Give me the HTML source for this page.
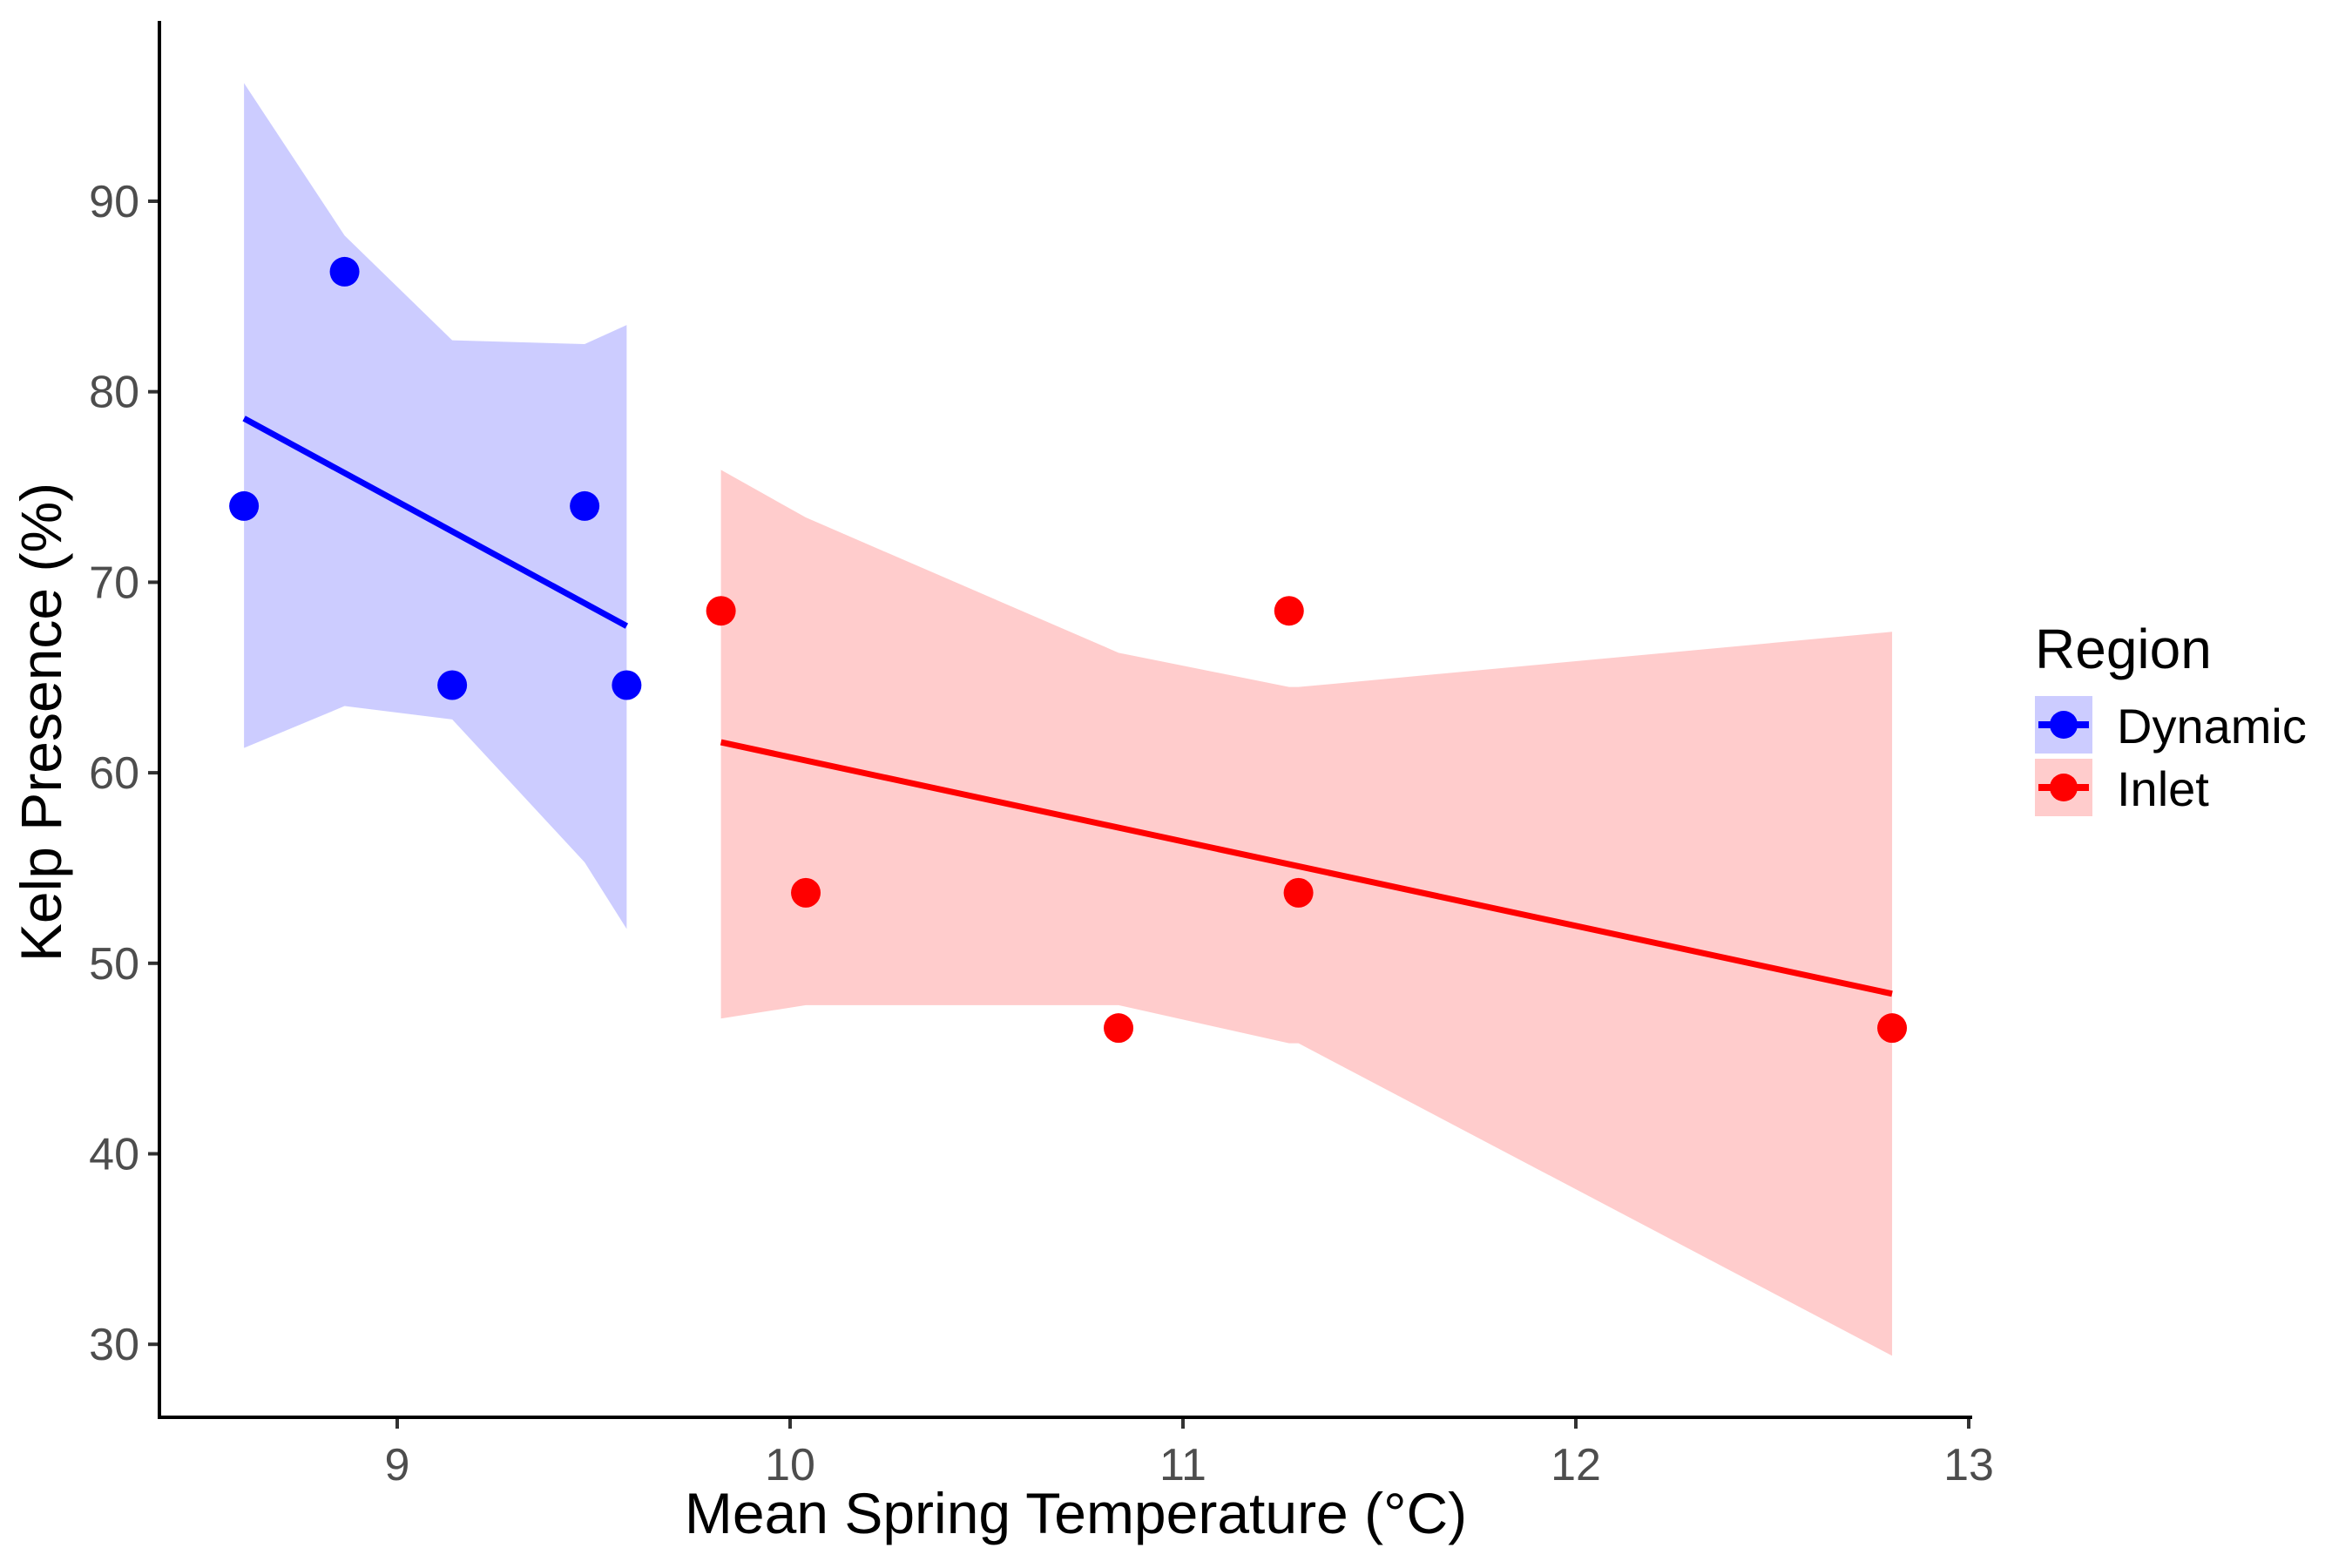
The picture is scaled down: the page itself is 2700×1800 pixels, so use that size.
<!DOCTYPE html>
<html><head><meta charset="utf-8"><style>
html,body{margin:0;padding:0;background:#fff}
svg{display:block;font-family:"Liberation Sans",Arial,sans-serif}
</style></head><body>
<svg id="chart" width="2700" height="1800" viewBox="0 0 2700 1800" xmlns="http://www.w3.org/2000/svg">
<g id="ribbons"></g>
<g id="lines"></g>
<g id="points"></g>
<g id="axes"></g>
<text x="1235" y="1760" font-size="66" text-anchor="middle" fill="#000">Mean Spring Temperature (°C)</text>
<text transform="translate(70,829) rotate(-90)" font-size="66" text-anchor="middle" fill="#000">Kelp Presence (%)</text>
<g>
<text x="2336" y="767" font-size="64" fill="#000">Region</text>
<g>
<rect x="2336" y="799" width="66" height="66" fill="#0000ff" fill-opacity="0.2"/>
<line x1="2340" y1="832" x2="2398" y2="832" stroke="#0000ff" stroke-width="8"/>
<circle cx="2369" cy="832" r="16" fill="#0000ff"/>
<text x="2430" y="853" font-size="56" fill="#000">Dynamic</text>
</g>
<g>
<rect x="2336" y="871" width="66" height="66" fill="#ff0000" fill-opacity="0.2"/>
<line x1="2340" y1="904" x2="2398" y2="904" stroke="#ff0000" stroke-width="8"/>
<circle cx="2369" cy="904" r="16" fill="#ff0000"/>
<text x="2430" y="925" font-size="56" fill="#000">Inlet</text>
</g>
</g>
</svg>
<script>
const xTicks = [9, 10, 11, 12, 13];
const yTicks = [30, 40, 50, 60, 70, 80, 90];
const dynX = [8.61, 8.866, 9.14, 9.477, 9.584];
const dynY = [74, 86.3, 64.6, 74, 64.6];
const inlX = [9.824, 10.04, 10.836, 11.27, 11.294, 12.805];
const inlY = [68.5, 53.7, 46.6, 68.5, 53.7, 46.6];
const dynFitX = [8.61, 9.584];
const dynFitY = [78.6, 67.7];
const inlFitX = [9.824, 12.805];
const inlFitY = [61.6, 48.4];
const dynBandX = [8.61, 8.866, 9.14, 9.477, 9.584];
const dynUpper = [96.2, 88.2, 82.7, 82.5, 83.5];
const dynLower = [61.3, 63.5, 62.8, 55.3, 51.8];
const inlBandX = [9.824, 10.04, 10.836, 11.27, 11.294, 12.805];
const inlUpper = [75.9, 73.4, 66.3, 64.5, 64.5, 67.4];
const inlLower = [47.1, 47.8, 47.8, 45.8, 45.8, 29.4];

const NS = "http://www.w3.org/2000/svg";
function sx(v){ return 456 + (v - 9) * 451; }
function sy(v){ return 231 + (90 - v) * 21.87; }
function mk(tag, attrs, parent){
  const e = document.createElementNS(NS, tag);
  for (const k in attrs) e.setAttribute(k, attrs[k]);
  parent.appendChild(e);
  return e;
}
const rib = document.getElementById('ribbons');
function band(xs, up, lo, color, name){
  let pts = xs.map((x,i)=>sx(x)+','+sy(up[i]));
  for (let i = xs.length-1; i >= 0; i--) pts.push(sx(xs[i])+','+sy(lo[i]));
  const p = mk('polygon', {points: pts.join(' '), fill: color, 'fill-opacity': 0.2}, rib);
  
  
}
band(dynBandX, dynUpper, dynLower, '#0000ff', 'dynamic-ribbon');
band(inlBandX, inlUpper, inlLower, '#ff0000', 'inlet-ribbon');

const ln = document.getElementById('lines');
function fit(xs, ys, color, name){
  const l = mk('line', {x1: sx(xs[0]), y1: sy(ys[0]), x2: sx(xs[1]), y2: sy(ys[1]), stroke: color, 'stroke-width': 7}, ln);
  
  
}
fit(dynFitX, dynFitY, '#0000ff', 'dynamic-fit-line');
fit(inlFitX, inlFitY, '#ff0000', 'inlet-fit-line');

const pg = document.getElementById('points');
function pts(xs, ys, color, name){
  xs.forEach((x,i)=>{
    const c = mk('circle', {cx: sx(x), cy: sy(ys[i]), r: 17, fill: color}, pg);
    
    
  });
}
pts(dynX, dynY, '#0000ff', 'dynamic-point');
pts(inlX, inlY, '#ff0000', 'inlet-point');

const ax = document.getElementById('axes');
const yl = mk('line', {x1: 183, y1: 24, x2: 183, y2: 1628, stroke: '#000', 'stroke-width': 4}, ax);


const xl = mk('line', {x1: 181, y1: 1627, x2: 2264, y2: 1627, stroke: '#000', 'stroke-width': 4}, ax);


xTicks.forEach(v=>{
  const t = mk('line', {x1: sx(v), y1: 1629, x2: sx(v), y2: 1640, stroke: '#333', 'stroke-width': 4}, ax);
  
  
  const tx = mk('text', {x: sx(v), y: 1699, 'font-size': 52, 'text-anchor': 'middle', fill: '#4d4d4d'}, ax);
  tx.textContent = v;
  
  
});
yTicks.forEach(v=>{
  const t = mk('line', {x1: 170, y1: sy(v), x2: 181, y2: sy(v), stroke: '#333', 'stroke-width': 4}, ax);
  
  
  const tx = mk('text', {x: 160, y: sy(v) + 18, 'font-size': 52, 'text-anchor': 'end', fill: '#4d4d4d'}, ax);
  tx.textContent = v;
  
  
});
</script>
</body></html>
